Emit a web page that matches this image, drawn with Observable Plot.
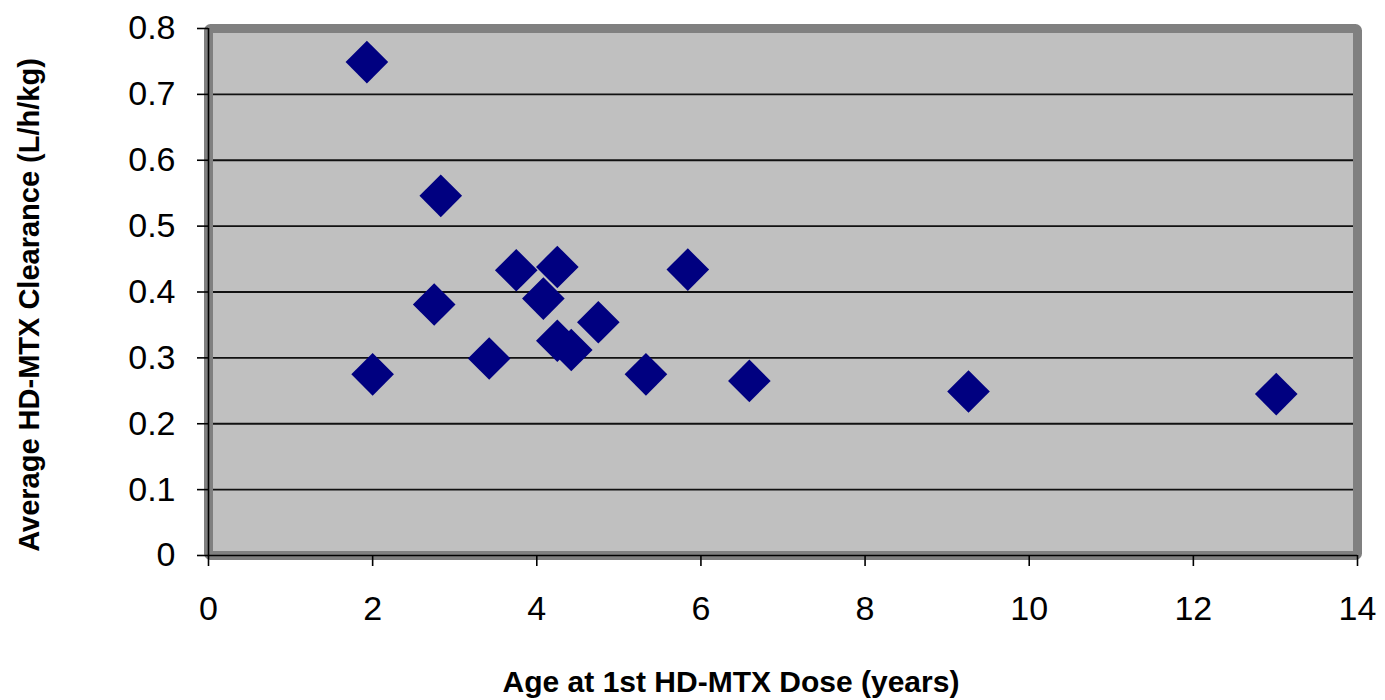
<!DOCTYPE html>
<html>
<head>
<meta charset="utf-8">
<script src="https://cdn.jsdelivr.net/npm/d3@7"></script>
<script src="https://cdn.jsdelivr.net/npm/@observablehq/plot@0.6"></script>
<style>
  html, body { margin: 0; padding: 0; background: #ffffff; }
  #chart { width: 1385px; height: 700px; }
</style>
</head>
<body>
<div id="chart"></div>
<script>
const ageYears = [1.93, 2.0, 2.83, 2.75, 3.42, 3.75, 4.08, 4.25, 4.25, 4.42, 4.75, 5.33, 5.84, 6.59, 9.26, 13.01];
const clearance = [0.749, 0.275, 0.546, 0.381, 0.299, 0.433, 0.390, 0.438, 0.326, 0.312, 0.354, 0.275, 0.434, 0.265, 0.249, 0.245];
const xTicks = [0, 2, 4, 6, 8, 10, 12, 14];
const yTicks = [0, 0.1, 0.2, 0.3, 0.4, 0.5, 0.6, 0.7, 0.8];
const xTitle = "Age at 1st HD-MTX Dose (years)";
const yTitle = "Average HD-MTX Clearance (L/h/kg)";

const points = ageYears.map((a, i) => ({age: a, cl: clearance[i]}));

const font = "'Liberation Sans', Arial, Helvetica, sans-serif";

const chart = Plot.plot({
  width: 1385,
  height: 700,
  marginLeft: 208,
  marginRight: 28,
  marginTop: 28,
  marginBottom: 145,
  style: {fontFamily: font, background: "#ffffff", color: "#000000"},
  x: {domain: [0, 14]},
  y: {domain: [0, 0.8]},
  marks: [
    Plot.frame({fill: "#c0c0c0", stroke: "none"}),
    Plot.ruleY(yTicks.filter(d => d > 0), {stroke: "#111111", strokeWidth: 1.8}),
    Plot.frame({fill: "none", stroke: "#808080", strokeWidth: 9, rx: 2}),
    Plot.ruleX([0], {stroke: "#000000", strokeWidth: 1.6}),
    Plot.ruleY([0], {stroke: "#000000", strokeWidth: 1.6}),
    Plot.axisY({ticks: yTicks, tickSize: 11, tickPadding: 22, fontSize: 34, label: null,
      tickFormat: d => d === 0 ? "0" : d.toFixed(1), stroke: "#000000", strokeWidth: 1.6}),
    Plot.axisX({ticks: xTicks, tickSize: 11, tickPadding: 29, fontSize: 34, label: null,
      tickFormat: d => String(d), stroke: "#000000", strokeWidth: 1.6}),
    Plot.dot(points, {x: "age", y: "cl", symbol: "diamond2", r: 19.2, fill: "#000080", stroke: "none"}),
    Plot.text([yTitle], {frameAnchor: "left", dx: -179, dy: 13, rotate: -90, fontSize: 29,
      fontWeight: "bold", fill: "#000000", textAnchor: "middle", lineAnchor: "middle"}),
    Plot.text([xTitle], {frameAnchor: "bottom", dx: -52, dy: 127, fontSize: 30,
      fontWeight: "bold", fill: "#000000", textAnchor: "middle", lineAnchor: "middle"})
  ]
});
document.getElementById("chart").appendChild(chart);
</script>
</body>
</html>
